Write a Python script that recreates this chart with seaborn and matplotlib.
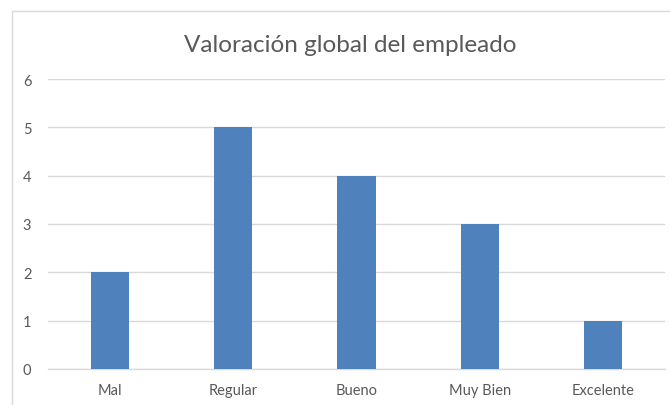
import matplotlib
matplotlib.use("Agg")
import matplotlib.pyplot as plt
import seaborn as sns
import pandas as pd
from matplotlib.patches import Rectangle

categories = ["Mal", "Regular", "Bueno", "Muy Bien", "Excelente"]
values = [2, 5, 4, 3, 1]
title = "Valoración global del empleado"

sns.set_theme(style="white")
plt.rcParams['font.family'] = ['Lato', 'DejaVu Sans']

fig = plt.figure(figsize=(6.7, 4.06), dpi=100)
ax = fig.add_axes([48/670, 36/406, 617/670, 290/406])

df = pd.DataFrame({"cat": categories, "val": values})
sns.barplot(data=df, x="cat", y="val", color="#4F81BD", saturation=1, width=0.31, ax=ax, zorder=3,
            linewidth=0)

ax.set_xlim(-0.5, 4.5)
ax.set_ylim(0, 6)
ax.set_yticks(range(0, 7))
ax.grid(axis="y", color="#D9D9D9", linewidth=1.0, zorder=0)
ax.set_axisbelow(True)
for s in ["top", "right", "left"]:
    ax.spines[s].set_visible(False)
ax.spines["bottom"].set_color("#D9D9D9")
ax.spines["bottom"].set_linewidth(1.0)
ax.set_xlabel("")
ax.set_ylabel("")
ax.tick_params(axis="both", length=0, labelsize=10.5, labelcolor="#595959")
ax.tick_params(axis="y", pad=12)
ax.tick_params(axis="x", pad=10)

fig.text(0.523, 1 - 45/406, title, ha="center", va="center", fontsize=17.5, color="#595959")

fig.patches.append(Rectangle((12/670, -0.1), 1.2, 1 - 12/406 + 0.1, transform=fig.transFigure,
                             fill=False, edgecolor="#D9D9D9", linewidth=1.0))

fig.savefig("out.png", dpi=100)
